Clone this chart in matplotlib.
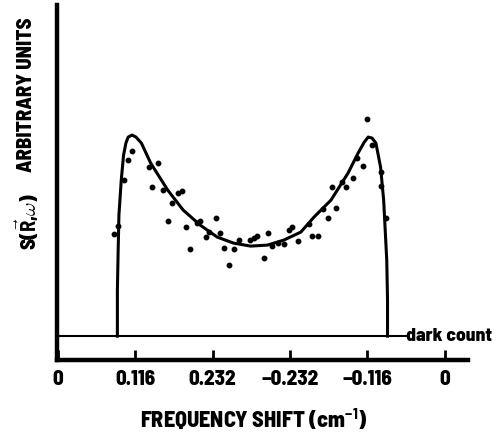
import matplotlib
matplotlib.use("Agg")
import matplotlib.pyplot as plt

plt.rcParams['font.family'] = ['Barlow Semi Condensed', 'Liberation Sans', 'DejaVu Sans']
plt.rcParams['font.weight'] = 'bold'
plt.rcParams['mathtext.fontset'] = 'custom'
plt.rcParams['mathtext.rm'] = 'Barlow Semi Condensed:bold'
plt.rcParams['mathtext.bf'] = 'Barlow Semi Condensed:bold'
plt.rcParams['mathtext.it'] = 'Barlow Semi Condensed:bold'
plt.rcParams['mathtext.default'] = 'bf'

# tick positions / labels on the frequency axis
tick_pos = [0, 1, 2, 3, 4, 5]
tick_labels = ["0", "0.116", "0.232", "\u22120.232", "\u22120.116", "0"]

# fitted curve
curve_x = [0.77, 0.77, 0.78, 0.79, 0.82, 0.85, 0.88, 0.91, 0.96, 1.01, 1.08, 1.20,
           1.42, 1.62, 1.84, 2.06, 2.27, 2.49, 2.71, 2.92, 3.14, 3.31, 3.53, 3.75,
           3.88, 3.96, 4.01, 4.06, 4.11, 4.14, 4.17, 4.21, 4.23, 4.25, 4.26, 4.26]
curve_y = [0.0, 4.6, 8.6, 12.1, 15.6, 18.1, 19.3, 19.9, 20.1, 19.9, 19.3, 17.3,
           14.6, 12.6, 11.1, 9.9, 9.3, 9.0, 9.1, 9.6, 10.4, 11.9, 13.6, 16.3,
           18.3, 19.4, 19.9, 19.8, 19.3, 18.1, 16.9, 13.6, 10.6, 7.6, 3.6, 0.0]

# measured points
pts_x = [0.72, 0.78, 0.85, 0.91, 0.96, 1.18, 1.29, 1.22, 1.36, 1.55, 1.60, 1.48,
         1.42, 1.66, 1.71, 1.80, 1.84, 1.92, 1.96, 2.05, 2.09, 2.15, 2.21, 2.28,
         2.34, 2.48, 2.53, 2.58, 2.67, 2.71, 2.77, 2.85, 2.92, 2.99, 3.03, 3.10,
         3.24, 3.28, 3.36, 3.49, 3.42, 3.60, 3.54, 3.67, 3.73, 3.81, 3.94, 3.86,
         3.99, 4.06, 4.17, 4.17, 4.24]
pts_y = [10.2, 11.0, 15.6, 17.6, 18.5, 16.9, 17.3, 14.9, 14.6, 14.3, 14.5, 13.3,
         11.5, 10.9, 8.7, 11.3, 11.5, 9.9, 10.4, 11.8, 10.3, 8.8, 7.1, 8.7,
         9.6, 9.6, 9.8, 10.0, 7.8, 10.3, 9.0, 9.3, 9.2, 10.6, 10.9, 9.5,
         11.2, 10.0, 10.0, 11.8, 12.7, 12.8, 14.9, 15.4, 14.9, 15.8, 17.0, 17.8,
         21.7, 19.1, 16.4, 15.0, 11.8]

dark_count = 0.0
dark_end = 4.5

fig = plt.figure(figsize=(4.97, 4.36), dpi=100)
ax = fig.add_axes([0.1147, 0.174, 0.827, 0.8145])

ax.plot(curve_x, curve_y, color="black", lw=2.2, solid_joinstyle="round")
ax.plot(pts_x, pts_y, "o", color="black", ms=3.2)
ax.plot([-0.05, dark_end], [dark_count, dark_count], color="black", lw=1.5)
ax.text(dark_end, dark_count, "dark count", fontsize=14, fontweight=800,
        va="center", ha="left", clip_on=False)

ax.set_xlim(-0.01, 5.3)
ax.set_ylim(-2.4, 33.1)
ax.spines["top"].set_visible(False)
ax.spines["right"].set_visible(False)
ax.spines["left"].set_linewidth(3.2)
ax.spines["bottom"].set_linewidth(3.2)
ax.set_yticks([])
ax.set_xticks(tick_pos)
ax.set_xticklabels(tick_labels, fontsize=15, fontweight=800)
ax.tick_params(axis="x", direction="in", length=7, width=2, pad=7)

fig.text(0.51, 0.038, "FREQUENCY SHIFT (cm$^{-1}$)", fontsize=16, fontweight=800,
         ha="center", va="center")
fig.text(0.054, 0.783, "ARBITRARY UNITS", fontsize=15, fontweight=800,
         rotation=90, ha="center", va="center")
fig.text(0.054, 0.493, "S($\\vec{R}$,$\\omega$)", fontsize=15, fontweight=800,
         rotation=90, ha="center", va="center")

fig.savefig("out.png", dpi=100)
